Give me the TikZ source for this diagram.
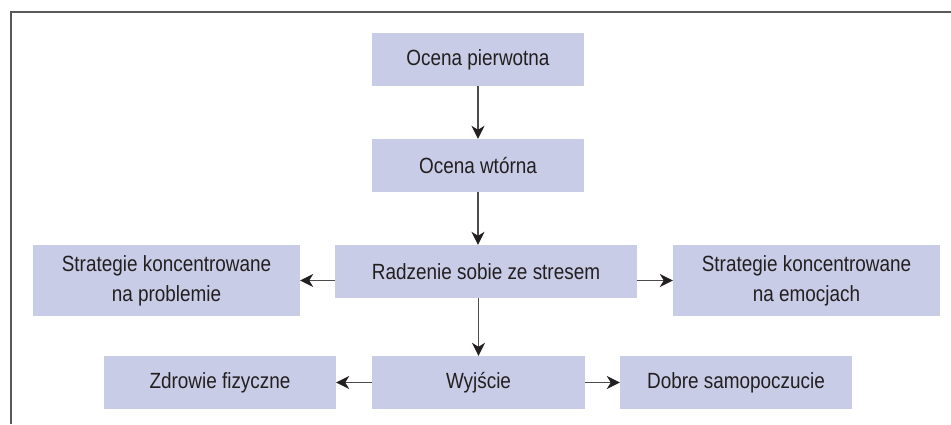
\documentclass[tikz,border=0pt]{standalone}
\usepackage{fontspec}
\setmainfont{Liberation Sans}[FakeStretch=0.86]
\usetikzlibrary{arrows.meta}
\definecolor{boxfill}{HTML}{C8CCE6}
\definecolor{txt}{HTML}{231F20}
\begin{document}
\begin{tikzpicture}[x=1pt,y=-1pt,
  box/.style={fill=boxfill,draw=none,inner sep=0pt,minimum height=53pt,text=txt,
    font=\fontsize{22}{30}\selectfont,align=center},
  arr/.style={draw=black!70,line width=1.3pt,-{Stealth[length=13pt,width=13pt,inset=4pt,color=txt]}},
  frame/.style={draw=black!65,line width=2pt}]
\useasboundingbox (0,0) rectangle (951,424);
\draw[frame] (10.5,424) -- (10.5,11.5) -- (951,11.5);
\node[box,minimum width=212pt] (op) at (478,59.5) {Ocena pierwotna};
\node[box,minimum width=212pt] (ow) at (478,165.5) {Ocena wtórna};
\node[box,minimum width=302pt] (rad) at (486,271.5) {Radzenie sobie ze stresem};
\node[box,minimum width=267pt,minimum height=71pt] (sl) at (166.5,280.5) {Strategie koncentrowane\\na problemie};
\node[box,minimum width=267pt,minimum height=71pt] (sr) at (806.5,280.5) {Strategie koncentrowane\\na emocjach};
\node[box,minimum width=213pt] (wy) at (478.5,382.5) {Wyjście};
\node[box,minimum width=232pt] (zd) at (220,382.5) {Zdrowie fizyczne};
\node[box,minimum width=232pt] (db) at (736,382.5) {Dobre samopoczucie};
\draw[arr] (op.south) -- (ow.north);
\draw[arr] (ow.south) -- (ow.south |- rad.north);
\draw[arr] (rad.west |- sl.east) -- (sl.east);
\draw[arr] (rad.east |- sr.west) -- (sr.west);
\draw[arr] (wy.north |- rad.south) -- (wy.north);
\draw[arr] (wy.west) -- (zd.east);
\draw[arr] (wy.east) -- (db.west);
\end{tikzpicture}
\end{document}
